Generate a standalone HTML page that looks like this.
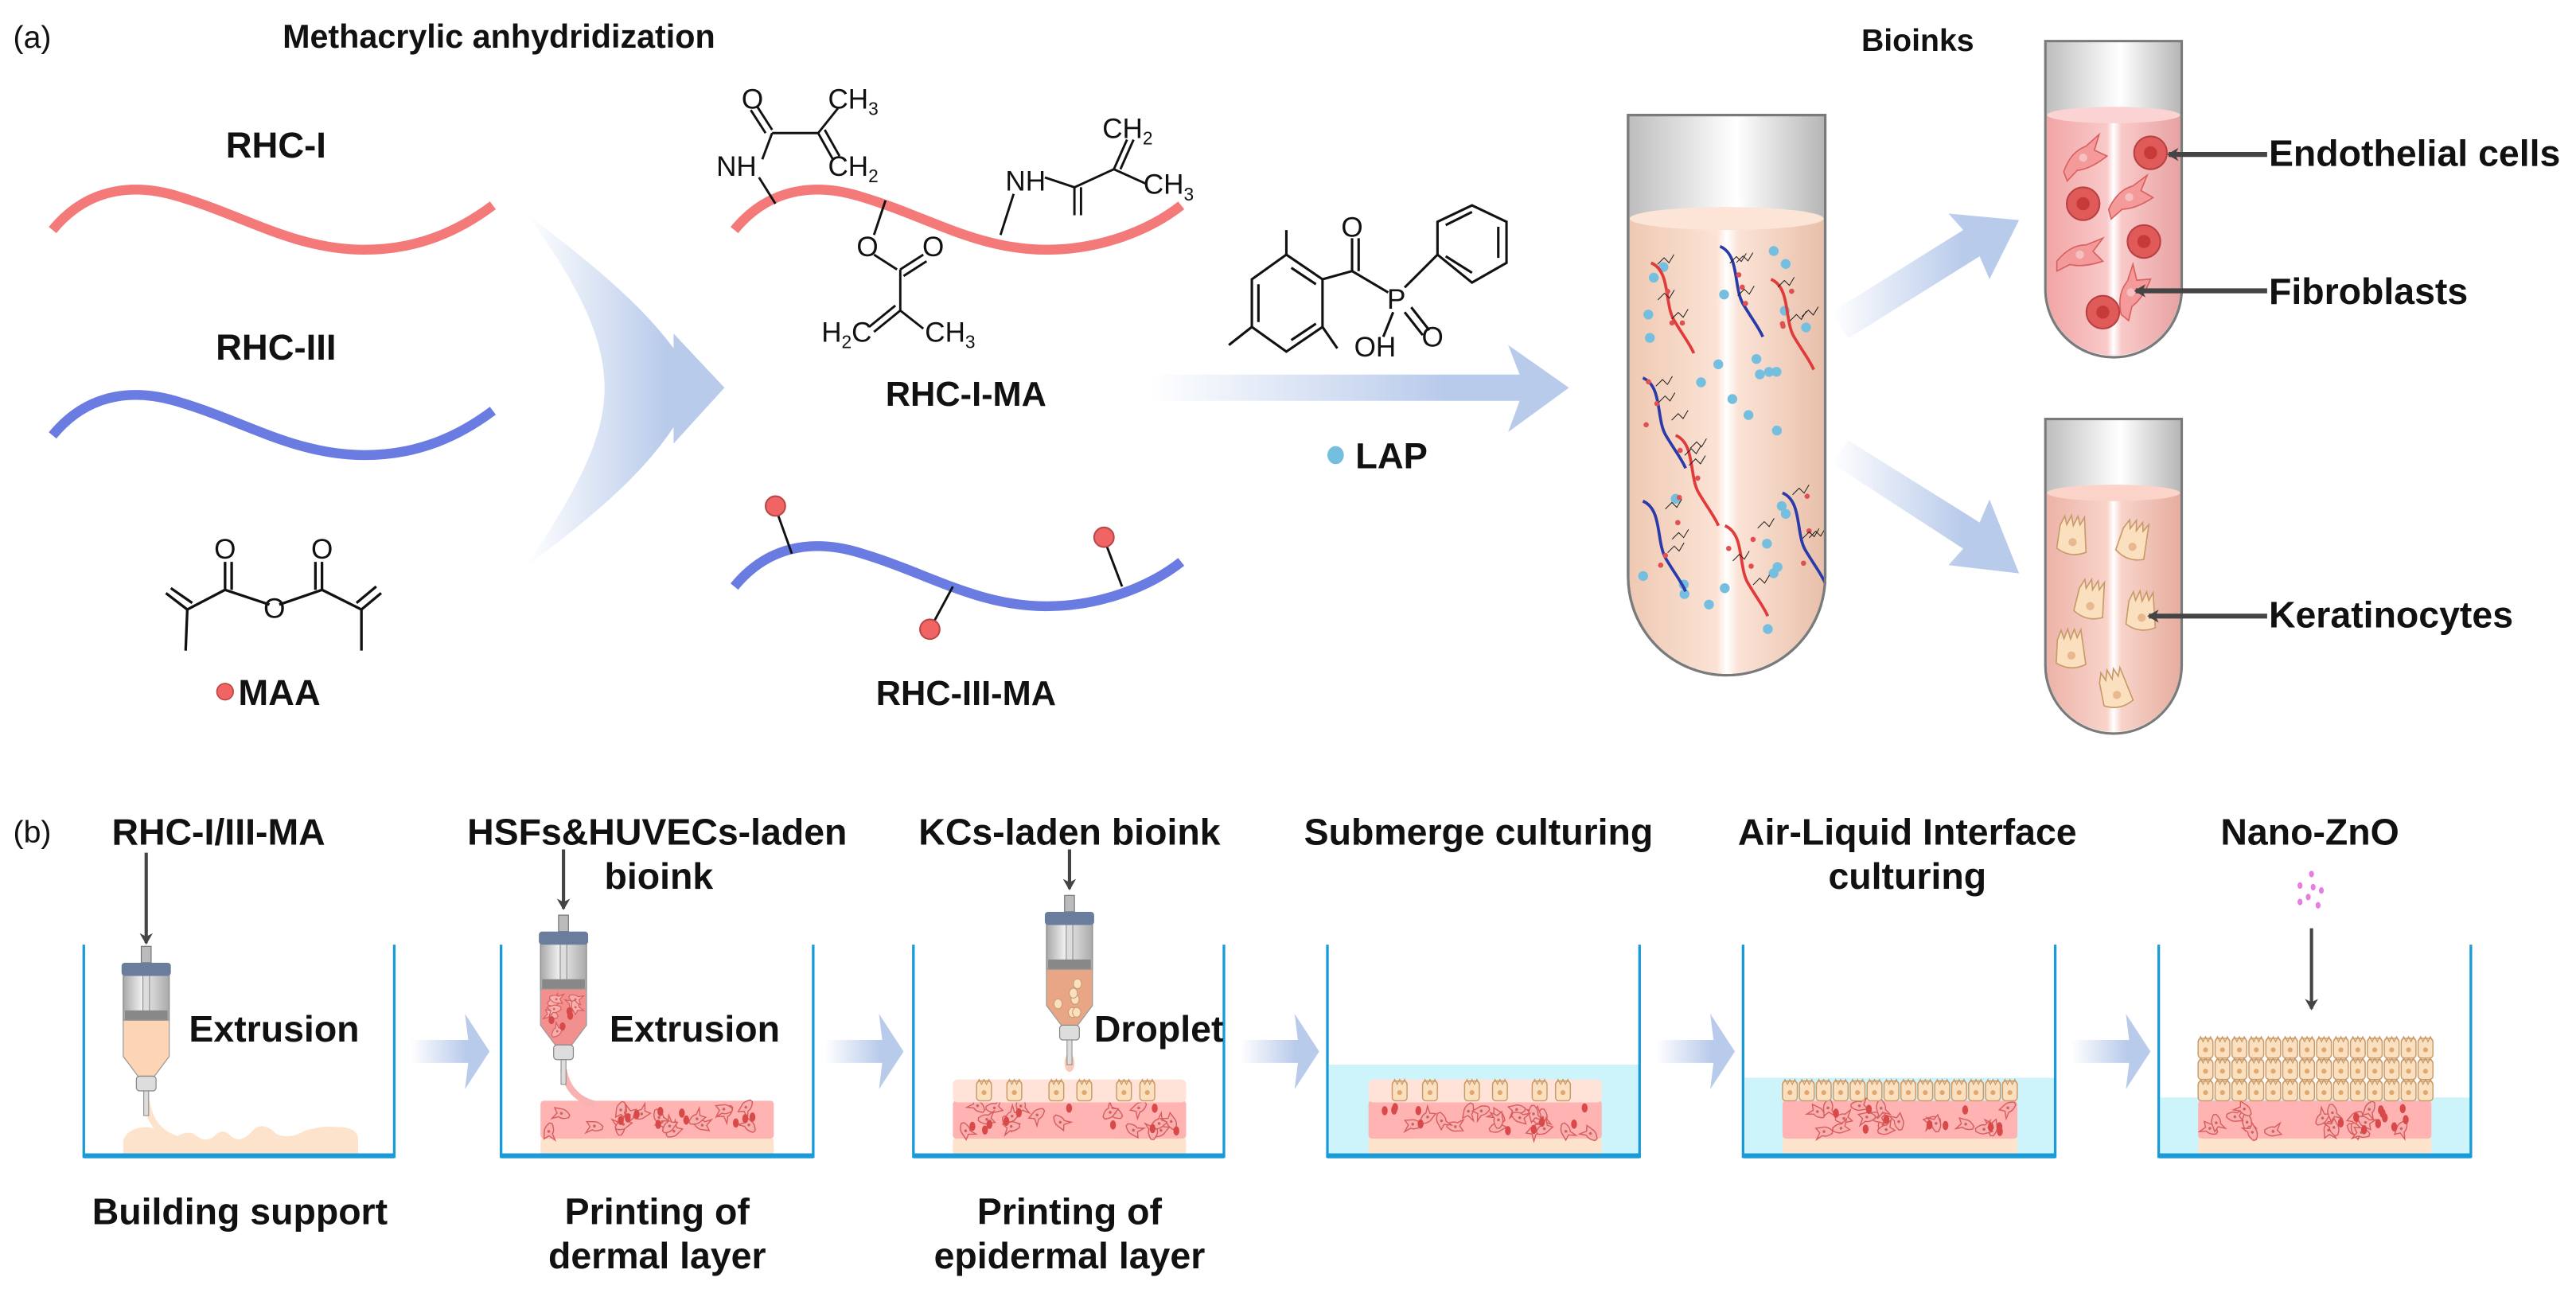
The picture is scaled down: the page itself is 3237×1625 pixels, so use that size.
<!DOCTYPE html>
<html><head><meta charset="utf-8"><style>
html,body{margin:0;padding:0;background:#fff;}
svg{display:block;}
text{font-family:"Liberation Sans",Arial,sans-serif;font-weight:bold;fill:#111;}
.chem{font-weight:normal;font-size:17px;}
</style></head><body>
<svg id="s" width="3237" height="1625" viewBox="0 0 1568 787" preserveAspectRatio="none" xmlns="http://www.w3.org/2000/svg">
<defs>
<linearGradient id="gH" x1="0" x2="1" y1="0" y2="0"><stop offset="0" stop-color="#b9cbeb" stop-opacity="0"/><stop offset="0.7" stop-color="#b9cbeb"/><stop offset="1" stop-color="#b9cbeb"/></linearGradient>
<linearGradient id="gTube" x1="0" x2="1"><stop offset="0" stop-color="#bdbdbd"/><stop offset="0.45" stop-color="#f4f4f4"/><stop offset="0.55" stop-color="#fff"/><stop offset="1" stop-color="#b5b5b5"/></linearGradient>
<linearGradient id="gBeige" x1="0" x2="1"><stop offset="0" stop-color="#efc9b2"/><stop offset="0.45" stop-color="#fbe3d6"/><stop offset="0.5" stop-color="#fff"/><stop offset="0.56" stop-color="#fbe3d6"/><stop offset="1" stop-color="#e8c0aa"/></linearGradient>
<linearGradient id="gPink" x1="0" x2="1"><stop offset="0" stop-color="#f2a5a5"/><stop offset="0.45" stop-color="#f9c9c9"/><stop offset="0.5" stop-color="#fff"/><stop offset="0.56" stop-color="#f9c9c9"/><stop offset="1" stop-color="#e8a2a2"/></linearGradient>
<linearGradient id="gPink2" x1="0" x2="1"><stop offset="0" stop-color="#edb3a8"/><stop offset="0.45" stop-color="#f8d3c9"/><stop offset="0.5" stop-color="#fff"/><stop offset="0.56" stop-color="#f8d3c9"/><stop offset="1" stop-color="#e6ad9f"/></linearGradient>
<linearGradient id="gSyr" x1="0" x2="1"><stop offset="0" stop-color="#a8a8a8"/><stop offset="0.4" stop-color="#efefef"/><stop offset="1" stop-color="#aaa"/></linearGradient>
<marker id="ah" markerWidth="8" markerHeight="8" refX="6" refY="4" orient="auto" markerUnits="userSpaceOnUse"><path d="M0,0 L7,4 L0,8 L2,4Z" fill="#444"/></marker>
</defs>

<!-- ===== (a) ===== -->
<text x="8" y="29" style="font-weight:normal;font-size:19px">(a)</text>
<text x="172" y="29" font-size="20">Methacrylic anhydridization</text>

<text x="168" y="96" font-size="22" text-anchor="middle">RHC-I</text>
<path d="M32,140 C55,112 85,112 110,120 C150,132 180,152 222,152 C255,152 280,140 300,125" fill="none" stroke="#f47a7a" stroke-width="6"/>
<text x="168" y="219" font-size="22" text-anchor="middle">RHC-III</text>
<path d="M32,265 C55,237 85,237 110,245 C150,257 180,277 222,277 C255,277 280,265 300,250" fill="none" stroke="#6a7be2" stroke-width="6"/>

<!-- MAA -->
<g stroke="#111" stroke-width="1.6" fill="none">
<path d="M137,342 L137,359 M141,342 L141,359 M137,359 L164,368 M170,368 L196,359 M196,342 L196,359 M192,342 L192,359 M137,359 L114,371 M196,359 L220,371 M114,371 L101,361 M117,367 L104,358 M220,371 L232,361 M217,367 L229,357 M114,371 L113,396 M220,371 L220,396"/>
</g>
<text class="chem" x="137" y="340" text-anchor="middle">O</text>
<text class="chem" x="196" y="340" text-anchor="middle">O</text>
<text class="chem" x="167" y="376" text-anchor="middle">O</text>
<circle cx="137" cy="421" r="5" fill="#f06464" stroke="#c04444" stroke-width="0.8"/>
<text x="145" y="429" font-size="22">MAA</text>

<!-- big chevron -->
<path d="M320,130 C360,160 390,185 410,212 L410,203 L441,236 L410,270 L410,260 C390,290 360,315 320,345 C350,300 368,268 368,236 C368,204 350,170 320,130Z" fill="url(#gH)"/>

<!-- RHC-I-MA -->
<path d="M447,140 C470,112 500,112 525,120 C565,132 595,152 637,152 C670,152 700,140 719,125" fill="none" stroke="#f47a7a" stroke-width="6"/>
<g stroke="#111" stroke-width="1.4" fill="none">
<path d="M472,124 L462,108 M464,97 L470,81 M470,81 L498,81 M457,67 L466,81 M461,65 L470,79 M498,81 L510,66 M498,81 L507,97 M502,79 L511,95 M539,122 L532,143 M532,155 L546,164 M548,164 L562,155 M550,168 L564,159 M548,164 L548,189 M548,189 L532,202 M545,186 L529,199 M548,189 L562,200 M609,143 L617,118 M636,108 L654,114 M654,114 L654,131 M658,114 L658,131 M654,114 L678,103 M678,103 L686,85 M682,103 L690,85 M678,103 L698,112"/>
</g>
<text class="chem" x="458" y="66" text-anchor="middle">O</text>
<text class="chem" x="504" y="66">CH<tspan font-size="11" dy="4">3</tspan></text>
<text class="chem" x="504" y="107">CH<tspan font-size="11" dy="4">2</tspan></text>
<text class="chem" x="436" y="107">NH</text>
<text class="chem" x="528" y="156" text-anchor="middle">O</text>
<text class="chem" x="568" y="156" text-anchor="middle">O</text>
<text class="chem" x="500" y="208">H<tspan font-size="11" dy="4">2</tspan><tspan dy="-4">C</tspan></text>
<text class="chem" x="563" y="208">CH<tspan font-size="11" dy="4">3</tspan></text>
<text class="chem" x="612" y="116">NH</text>
<text class="chem" x="671" y="84">CH<tspan font-size="11" dy="4">2</tspan></text>
<text class="chem" x="696" y="118">CH<tspan font-size="11" dy="4">3</tspan></text>
<text x="588" y="247" font-size="21" text-anchor="middle">RHC-I-MA</text>

<!-- RHC-III-MA -->
<path d="M447,357 C470,329 500,329 525,337 C565,349 595,369 637,369 C670,369 700,357 719,342" fill="none" stroke="#6a7be2" stroke-width="6"/>
<g stroke="#111" stroke-width="1.4"><line x1="472" y1="309" x2="482" y2="337"/><line x1="672" y1="328" x2="683" y2="357"/><line x1="566" y1="383" x2="580" y2="357"/></g>
<g fill="#f06464" stroke="#b84848" stroke-width="1"><circle cx="472" cy="308" r="6"/><circle cx="672" cy="327" r="6"/><circle cx="566" cy="383" r="6"/></g>
<text x="588" y="429" font-size="21" text-anchor="middle">RHC-III-MA</text>

<!-- LAP molecule -->
<g stroke="#111" stroke-width="1.5" fill="none">
<path d="M783,155 L805,170 L805,199 L783,214 L762,199 L762,170 Z M786,163 L801,173 M801,197 L786,207 M766,173 L766,196"/>
<path d="M783,155 L783,140 M762,199 L748,210 M805,199 L814,212 M805,170 L823,165 M823,165 L823,145 M827,165 L827,145 M823,165 L845,178 M855,175 L875,155 M875,155 L875,135 L896,125 L917,135 L917,160 L896,172 Z M880,137 L896,129 M912,138 L912,157 M880,156 L896,166 M848,190 L842,205 M855,190 L866,204 M859,187 L870,201"/>
</g>
<text class="chem" x="823" y="144" text-anchor="middle">O</text>
<text class="chem" x="850" y="188" text-anchor="middle">P</text>
<text class="chem" x="837" y="217" text-anchor="middle">OH</text>
<text class="chem" x="872" y="211" text-anchor="middle">O</text>
<ellipse cx="813" cy="277" rx="5" ry="5.5" fill="#74bfe0"/>
<text x="825" y="285" font-size="22">LAP</text>

<!-- horizontal arrow -->
<path d="M700,228 L925,228 L918,210 L955,236 L918,263 L925,244 L700,244Z" fill="url(#gH)"/>

<!-- big tube -->
<path d="M991,70 L1111,70 L1111,351 A60,60 0 0 1 991,351 Z" fill="url(#gTube)" stroke="#7a7a7a" stroke-width="1.5"/>
<path d="M992,133 L1110,133 L1110,351 A59,59 0 0 1 992,351 Z" fill="url(#gBeige)"/>
<ellipse cx="1051" cy="133" rx="59" ry="7" fill="#fce5d6"/>
<g id="bigtube"></g>
<path d="M991,70 L1111,70 L1111,351 A60,60 0 0 1 991,351 Z" fill="none" stroke="#7a7a7a" stroke-width="1.5"/>

<text x="1133" y="31" font-size="19">Bioinks</text>

<!-- diagonal arrows -->
<path d="M1115,190 L1195,140 L1186,130 L1229,134 L1211,170 L1205,156 L1125,206Z" fill="url(#gH)"/>
<path d="M1115,282 L1125,268 L1205,318 L1211,304 L1229,349 L1186,344 L1195,334Z" fill="url(#gH)"/>

<!-- small tube 1 -->
<path d="M1245,25 L1328,25 L1328,176 A41.5,41.5 0 0 1 1245,176 Z" fill="url(#gTube)" stroke="#7a7a7a" stroke-width="1.5"/>
<path d="M1246,70 L1327,70 L1327,176 A40.5,40.5 0 0 1 1246,176 Z" fill="url(#gPink)"/>
<ellipse cx="1286.5" cy="70" rx="40.5" ry="5" fill="#fbd3d3"/>
<g id="t1"></g>
<!-- small tube 2 -->
<path d="M1245,255 L1328,255 L1328,405 A41.5,41.5 0 0 1 1245,405 Z" fill="url(#gTube)" stroke="#7a7a7a" stroke-width="1.5"/>
<path d="M1246,300 L1327,300 L1327,405 A40.5,40.5 0 0 1 1246,405 Z" fill="url(#gPink2)"/>
<ellipse cx="1286.5" cy="300" rx="40.5" ry="5" fill="#fbd3c8"/>
<g id="t2"></g>

<g stroke="#444" stroke-width="3" marker-end="url(#ah)"><line x1="1380" y1="94" x2="1320" y2="94"/><line x1="1380" y1="177" x2="1300" y2="177"/><line x1="1380" y1="375" x2="1308" y2="375"/></g>
<text x="1381" y="101" font-size="22.5">Endothelial cells</text>
<text x="1381" y="185" font-size="22.5">Fibroblasts</text>
<text x="1381" y="382" font-size="22.5">Keratinocytes</text>

<!-- ===== (b) ===== -->
<text x="8" y="513" style="font-weight:normal;font-size:19px">(b)</text>
<g font-size="22.5" text-anchor="middle">
<text x="133" y="514">RHC-I/III-MA</text>
<text x="400" y="514">HSFs&amp;HUVECs-laden</text>
<text x="401" y="541">bioink</text>
<text x="651" y="514">KCs-laden bioink</text>
<text x="900" y="514">Submerge culturing</text>
<text x="1161" y="514">Air-Liquid Interface</text>
<text x="1161" y="541">culturing</text>
<text x="1406" y="514">Nano-ZnO</text>
<text x="146" y="745">Building support</text>
<text x="400" y="745">Printing of</text>
<text x="400" y="772">dermal layer</text>
<text x="651" y="745">Printing of</text>
<text x="651" y="772">epidermal layer</text>
</g>

<!-- water -->
<rect x="809" y="648" width="189" height="57" fill="#cdf3fb"/>
<rect x="1062" y="656" width="189" height="49" fill="#cdf3fb"/>
<rect x="1315" y="668" width="189" height="37" fill="#cdf3fb"/>

<!-- container 1 base -->
<path d="M75,705 L75,694 Q78,686 90,686 Q100,688 106,693 Q112,688 118,690 Q124,696 130,692 Q135,686 140,691 Q146,697 154,688 Q160,682 168,690 Q176,694 186,688 Q196,685 206,686 Q218,686 218,694 L218,705Z" fill="#fde3cc"/>
<path d="M89,670 Q92,690 110,694" fill="none" stroke="#fde3cc" stroke-width="4"/>

<g id="tissues"></g>

<!-- pink extrusion -->
<path d="M343,651 Q346,668 362,672" fill="none" stroke="#f9b2b2" stroke-width="4"/>
<ellipse cx="651" cy="647" rx="3" ry="5.5" fill="#fcc8b8"/>

<g id="syr"></g>

<!-- containers -->
<g fill="none" stroke="#1a9ad6">
<path d="M51,575 L51,704 L240,704 L240,575" stroke-width="1.6"/>
<path d="M305,575 L305,704 L495,704 L495,575" stroke-width="1.6"/>
<path d="M556,575 L556,704 L745,704 L745,575" stroke-width="1.6"/>
<path d="M808,575 L808,704 L998,704 L998,575" stroke-width="1.6"/>
<path d="M1061,575 L1061,704 L1251,704 L1251,575" stroke-width="1.6"/>
<path d="M1314,575 L1314,704 L1504,704 L1504,575" stroke-width="1.6"/>
</g>
<g fill="#1a9ad6"><rect x="51" y="702" width="189" height="3"/><rect x="305" y="702" width="190" height="3"/><rect x="556" y="702" width="189" height="3"/><rect x="808" y="702" width="190" height="3"/><rect x="1061" y="702" width="190" height="3"/><rect x="1314" y="702" width="190" height="3"/></g>

<!-- step arrows -->
<g fill="url(#gH)">
<path d="M250,633 L285,633 L283,617 L298,640 L283,663 L285,647 L250,647Z"/>
<path d="M502,633 L537,633 L535,617 L550,640 L535,663 L537,647 L502,647Z"/>
<path d="M755,633 L790,633 L788,617 L803,640 L788,663 L790,647 L755,647Z"/>
<path d="M1008,633 L1043,633 L1041,617 L1056,640 L1041,663 L1043,647 L1008,647Z"/>
<path d="M1261,633 L1296,633 L1294,617 L1309,640 L1294,663 L1296,647 L1261,647Z"/>
</g>

<!-- vertical arrows -->
<g stroke="#444" stroke-width="2" marker-end="url(#ah)">
<line x1="89" y1="519" x2="89" y2="574"/>
<line x1="343" y1="517" x2="343" y2="553"/>
<line x1="651" y1="517" x2="651" y2="541"/>
<line x1="1407" y1="565" x2="1407" y2="614"/>
</g>
<g fill="#e87ce0"><ellipse cx="1407" cy="532" rx="1.5" ry="2"/><ellipse cx="1400" cy="539" rx="1.5" ry="2"/><ellipse cx="1408" cy="540" rx="1.5" ry="2"/><ellipse cx="1413" cy="542" rx="1.5" ry="2"/><ellipse cx="1405" cy="546" rx="1.5" ry="2"/><ellipse cx="1400" cy="549" rx="1.5" ry="2"/><ellipse cx="1411" cy="551" rx="1.5" ry="2"/></g>

<g font-size="22.5">
<text x="115" y="634">Extrusion</text>
<text x="371" y="634">Extrusion</text>
<text x="666" y="634">Droplet</text>
</g>
</svg>
<script>
(function(){
var NS="http://www.w3.org/2000/svg";
var seed=7;function r(){seed=(seed*16807)%2147483647;return (seed-1)/2147483646;}
function el(p,tag,a){var e=document.createElementNS(NS,tag);for(var k in a)e.setAttribute(k,a[k]);p.appendChild(e);return e;}
var T=document.getElementById("tissues");
function fib(p,x,y,s){var g=el(p,"g",{transform:"translate("+x+","+y+") rotate("+(r()*360)+") scale("+s+")"});
 el(g,"path",{d:"M-6,-1 Q-2,-4 1,-3 L5,-6 L3,-1 L6,2 L1,3 Q-2,4 -6,1Z",fill:"#f7b0b0",stroke:"#d85c5c","stroke-width":0.8});
 el(g,"circle",{cx:0,cy:0,r:1,fill:"#d85c5c"});}
function dermis(x0,x1){
 el(T,"rect",{x:x0,y:692,width:x1-x0,height:13,rx:3,fill:"#fde3cc"});
 el(T,"rect",{x:x0,y:670,width:x1-x0,height:23,rx:2,fill:"#ffb3b3"});
 for(var i=0;i<18;i++){fib(T,x0+5+r()*(x1-x0-10),673+r()*17,0.85);}
 for(var i=0;i<10;i++){el(T,"ellipse",{cx:x0+5+r()*(x1-x0-10),cy:674+r()*15,rx:1.8,ry:2.8,fill:"#d84a4a"});}
}
function kc(p,x,y){el(p,"rect",{x:x,y:y,width:9,height:12,rx:2,fill:"#fbe0c0",stroke:"#c89a68","stroke-width":0.7});
 el(p,"path",{d:"M"+x+","+(y+2)+" l1.5,-3 l1.5,3 l1.5,-3 l1.5,3 l1.5,-3 l1.5,3",fill:"none",stroke:"#c89a68","stroke-width":0.6});
 el(p,"circle",{cx:x+4.5,cy:y+7,r:1.5,fill:"#e0a870"});}
function epid(x0,x1,sparse,rows){
 if(sparse){el(T,"rect",{x:x0,y:657,width:x1-x0,height:14,rx:3,fill:"#ffe2d8"});
  var xs=[0.13,0.26,0.44,0.56,0.73,0.83];xs.forEach(function(f){kc(T,x0+f*(x1-x0)-4,658);});}
 else{for(var rr=0;rr<rows;rr++){var y=658-rr*13;for(var x=x0;x<x1-8;x+=10.3)kc(T,x,y);}}
}
dermis(329,471);
dermis(580,722);epid(580,722,true);
dermis(833,975);epid(833,975,true);
dermis(1085,1228);epid(1085,1228,false,1);
dermis(1338,1480);epid(1338,1480,false,3);

var S=document.getElementById("syr");
function syr(cx,top,fill,type){
 el(S,"rect",{x:cx-3,y:top,width:6,height:10,fill:"#bbb",stroke:"#777","stroke-width":0.6});
 var b=top+10;
 el(S,"rect",{x:cx-14,y:b+5,width:28,height:30,fill:"url(#gSyr)",stroke:"#888","stroke-width":0.6});
 el(S,"rect",{x:cx-2,y:b+5,width:4,height:26,fill:"#ddd",stroke:"#888","stroke-width":0.5});
 el(S,"rect",{x:cx-15,y:b,width:30,height:8,rx:2,fill:"#6a7d9c"});
 el(S,"rect",{x:cx-13,y:b+29,width:26,height:6,fill:"#888"});
 el(S,"path",{d:"M"+(cx-14)+","+(b+35)+" L"+(cx+14)+","+(b+35)+" L"+(cx+14)+","+(b+57)+" L"+(cx+5)+","+(b+69)+" L"+(cx-5)+","+(b+69)+" L"+(cx-14)+","+(b+57)+"Z",fill:fill,stroke:"#999","stroke-width":0.6});
 if(type==1){for(var i=0;i<8;i++)fib(S,cx-8+r()*16,b+40+r()*22,0.7);for(var i=0;i<4;i++)el(S,"ellipse",{cx:cx-9+r()*18,cy:b+40+r()*22,rx:1.8,ry:2.5,fill:"#d84a4a"});}
 if(type==2){for(var i=0;i<6;i++)el(S,"ellipse",{cx:cx-8+r()*16,cy:b+40+r()*22,rx:2.5,ry:3,fill:"#fbe0c0",stroke:"#c89a68","stroke-width":0.5});}
 el(S,"rect",{x:cx-6,y:b+69,width:12,height:9,rx:2,fill:"#ddd",stroke:"#888","stroke-width":0.6});
 el(S,"rect",{x:cx-1.5,y:b+78,width:3,height:15,fill:"#ddd",stroke:"#888","stroke-width":0.5});
}
syr(89,576,"#fdd4b4",0);
syr(343,557,"#f29090",1);
syr(651,545,"#e9a686",2);

var B=document.getElementById("bigtube");
for(var i=0;i<30;i++){el(B,"circle",{cx:1000+r()*100,cy:150+r()*240,r:3,fill:"#74bfe0"});}
var strands=[[1005,160,"#e03a3a"],[1047,150,"#2a3aa8"],[1078,170,"#e03a3a"],[1000,230,"#2a3aa8"],[1020,265,"#e03a3a"],[1000,305,"#2a3aa8"],[1050,320,"#e03a3a"],[1085,300,"#2a3aa8"]];
strands.forEach(function(s){var x=s[0],y=s[1];var d="M"+x+","+y+" c12,5 8,25 14,35 s10,15 12,20";
 el(B,"path",{d:d,fill:"none",stroke:s[2],"stroke-width":1.8});
 for(var k=0;k<3;k++){el(B,"path",{d:"M"+(x+r()*20)+","+(y+r()*40)+" l4,-4 l3,3 l3,-5",fill:"none",stroke:"#222","stroke-width":0.5});
  el(B,"circle",{cx:x+r()*22,cy:y+r()*45,r:1.6,fill:"#e05050"});}});
var t1=document.getElementById("t1");
[[1309,93],[1268,124],[1305,147],[1280,190]].forEach(function(c){el(t1,"circle",{cx:c[0],cy:c[1],r:10,fill:"#e05a5a",stroke:"#b84040","stroke-width":1});el(t1,"circle",{cx:c[0],cy:c[1],r:4,fill:"#c83a3a"});});
[[1268,96,-20],[1296,120,-15],[1266,155,0],[1297,178,-50]].forEach(function(c){var g=el(t1,"g",{transform:"translate("+c[0]+","+c[1]+") rotate("+c[2]+")"});
 el(g,"path",{d:"M-14,4 Q-6,-6 4,-6 L14,-10 L8,-2 L14,4 Q2,8 -6,6 L-14,10Z",fill:"#f49a9a",stroke:"#d86060","stroke-width":0.8});el(g,"circle",{cx:0,cy:0,r:2.5,fill:"#f7c0c0"});});
var t2=document.getElementById("t2");
[[1262,327],[1299,330],[1273,366],[1304,373],[1261,396],[1288,420]].forEach(function(c){var g=el(t2,"g",{transform:"translate("+c[0]+","+c[1]+") rotate("+(r()*40-20)+")"});
 el(g,"path",{d:"M-9,-6 l2,-6 l2,5 l2,-6 l2,6 l2,-6 l2,5 l2,-5 L9,8 Q0,13 -9,8Z",fill:"#fbe0c0",stroke:"#c89a68","stroke-width":0.8});el(g,"circle",{cx:0,cy:3,r:2.5,fill:"#e8b890"});});
})();
</script>
</body></html>
